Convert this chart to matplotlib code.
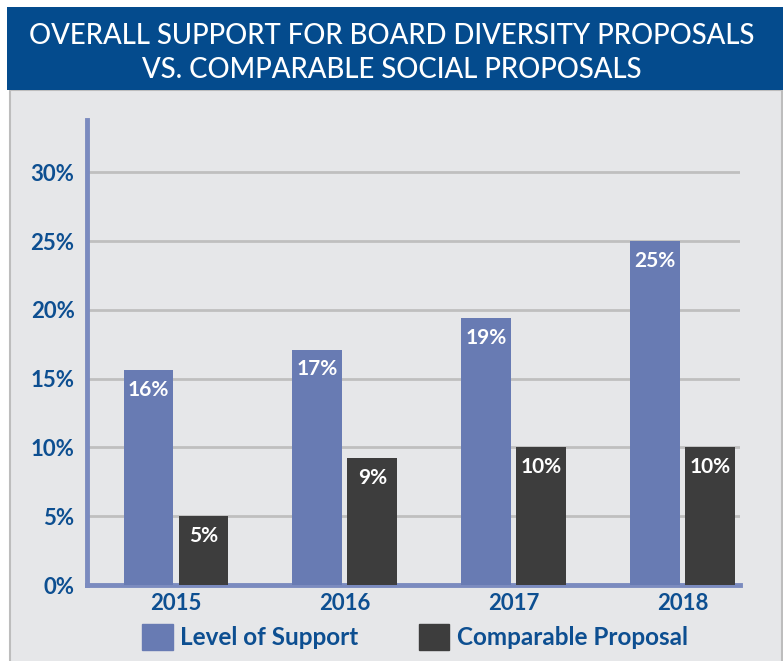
import numpy as np
import matplotlib.pyplot as plt
from matplotlib.patches import Rectangle, Patch

years = ['2015', '2016', '2017', '2018']
support = [15.6, 17.1, 19.4, 25.0]
comparable = [5.0, 9.2, 10.0, 10.0]
support_labels = ['16%', '17%', '19%', '25%']
comparable_labels = ['5%', '9%', '10%', '10%']
yticks = [0, 5, 10, 15, 20, 25, 30]

blue_bar = '#687bb3'
dark_bar = '#3d3d3d'
text_blue = '#0d4f91'
banner = '#044b8d'
bg = '#e6e7e9'

plt.rcParams['font.family'] = ['Lato', 'DejaVu Sans']

fig = plt.figure(figsize=(7.83, 6.61), dpi=100)
fig.patch.set_facecolor('white')

W, H = 783, 661
def fx(px): return px / W
def fy(py): return 1 - py / H

# panel background and frame
fig.patches.append(Rectangle((fx(10), -0.01), fx(772), fy(90) + 0.01, transform=fig.transFigure,
                             facecolor=bg, edgecolor='#bdbdbd', lw=1.5, zorder=0))
# title banner
fig.patches.append(Rectangle((fx(7), fy(90)), 1 - fx(7), fy(7) - fy(90), transform=fig.transFigure,
                             facecolor=banner, edgecolor='none', zorder=1))
fig.text(0.5, fy(36), 'OVERALL SUPPORT FOR BOARD DIVERSITY PROPOSALS', color='white',
         fontsize=19.8, fontweight='medium', ha='center', va='center')
fig.text(0.5, fy(70), 'VS. COMPARABLE SOCIAL PROPOSALS', color='white',
         fontsize=19.8, fontweight='medium', ha='center', va='center')

ax = fig.add_axes([fx(87), fy(585), fx(740) - fx(87), fy(120) - fy(585)])
ax.set_facecolor('none')
ax.set_zorder(3)

x = np.arange(len(years))
w = 0.295
off = 0.163
b1 = ax.bar(x - off, support, w, color=blue_bar, zorder=3)
b2 = ax.bar(x + off, comparable, w, color=dark_bar, zorder=3)

for rects, labels in ((b1, support_labels), (b2, comparable_labels)):
    for r, lab in zip(rects, labels):
        ax.annotate(lab, (r.get_x() + r.get_width() / 2, r.get_height()),
                    xytext=(0, -7), textcoords='offset points', ha='center', va='top',
                    color='white', fontsize=15, fontweight='bold', zorder=4)

ax.set_xlim(-0.527, 3.34)
ax.set_ylim(0, 33.8)
ax.set_yticks(yticks)
ax.set_yticklabels([f'{v}%' for v in yticks])
ax.set_xticks(x)
ax.set_xticklabels(years)
ax.tick_params(length=0, colors=text_blue, labelsize=16)
ax.tick_params(axis='y', pad=9)
ax.tick_params(axis='x', pad=6)
for lab in ax.get_xticklabels() + ax.get_yticklabels():
    lab.set_fontweight('bold')

ax.grid(axis='y', color='#bfbfbf', lw=2, zorder=1)
for s in ['top', 'right']:
    ax.spines[s].set_visible(False)
for s in ['left', 'bottom']:
    ax.spines[s].set_color('#7b8bbf')
    ax.spines[s].set_linewidth(3.5)

handles = [Patch(color=blue_bar), Patch(color=dark_bar)]
leg = fig.legend(handles, ['Level of Support', 'Comparable Proposal'], loc='center',
                 bbox_to_anchor=(fx(415), fy(637)), ncol=2, frameon=False,
                 handlelength=1.25, handleheight=1.25, handletextpad=0.3,
                 columnspacing=2.5, prop={'size': 17.5, 'weight': 'bold'})
for t in leg.get_texts():
    t.set_color(text_blue)

fig.savefig('out.png', dpi=100, facecolor=fig.get_facecolor())
